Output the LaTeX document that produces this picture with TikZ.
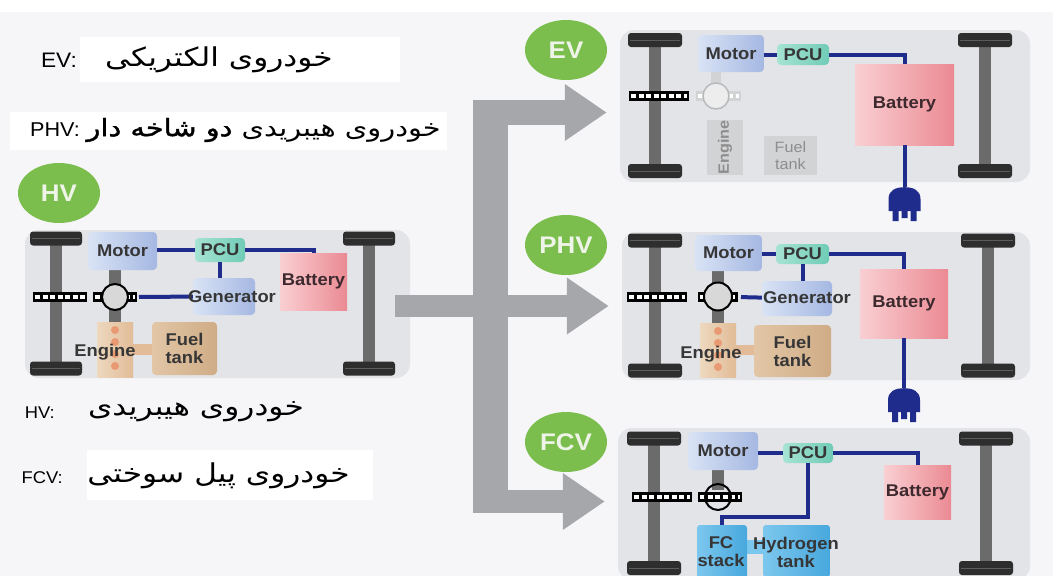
\documentclass[tikz,border=0pt]{standalone}
\usepackage{fontspec}
\setmainfont{Liberation Sans}[FakeStretch=1.08]
\newfontfamily\farsi[Script=Arabic,FakeStretch=1.2]{DejaVu Sans}
\newfontfamily\farsibold[Script=Arabic,FakeStretch=1.2,FakeBold=1.5]{DejaVu Sans}
\TeXXeTstate=1
\usetikzlibrary{shapes.geometric,arrows.meta}
\definecolor{pagebg}{HTML}{F6F6F8}
\definecolor{carbody}{HTML}{E3E4E7}
\definecolor{tire}{HTML}{2E2E2E}
\definecolor{tread}{HTML}{5C5C5C}
\definecolor{axle}{HTML}{6B6B6B}
\definecolor{wireblue}{HTML}{1F2C8C}
\definecolor{arrowgray}{HTML}{A6A7AB}
\definecolor{taggreen}{HTML}{7BBE4D}
\definecolor{tagtext}{HTML}{EEF4E8}
\definecolor{txt}{HTML}{363636}
\definecolor{battext}{HTML}{3E2A2E}
\definecolor{motorL}{HTML}{D9E3F5}
\definecolor{motorR}{HTML}{A5B8E2}
\definecolor{pcuL}{HTML}{A6E3D3}
\definecolor{pcuR}{HTML}{70CCB6}
\definecolor{batL}{HTML}{F9CFD2}
\definecolor{batR}{HTML}{EB8A93}
\definecolor{engL}{HTML}{EDD8BE}
\definecolor{engR}{HTML}{E2BC98}
\definecolor{engdot}{HTML}{E99A72}
\definecolor{fuelL}{HTML}{E2C6A6}
\definecolor{fuelR}{HTML}{CFAC86}
\definecolor{fcL}{HTML}{7CC7EE}
\definecolor{fcR}{HTML}{48A8DD}
\definecolor{gearfill}{HTML}{D8D8D8}
\definecolor{faded}{HTML}{D2D3D5}
\definecolor{fadedline}{HTML}{B8B9BB}
\definecolor{fadedtext}{HTML}{8E8E8E}
\tikzset{
  body/.style={fill=carbody, rounded corners=14pt, inner sep=0pt},
  wh/.style 2 args={minimum width=#1, minimum height=#2},
  lbl/.style={text=txt, font=\bfseries\fontsize{17}{18}\selectfont, align=center, inner sep=0pt},
  motorbox/.style={rounded corners=4pt, left color=motorL, right color=motorR, lbl},
  pcubox/.style={rounded corners=4pt, left color=pcuL, right color=pcuR, lbl},
  batbox/.style={left color=batL, right color=batR, lbl, text=battext},
  engbox/.style={left color=engL, right color=engR},
  fuelbox/.style={rounded corners=4pt, left color=fuelL, right color=fuelR, lbl},
  fcbox/.style={rounded corners=3pt, left color=fcL, right color=fcR},
  fadebox/.style={fill=faded, text=fadedtext, font=\fontsize{15}{17}\selectfont, align=center, inner sep=0pt},
  gear/.style={circle, draw=black, line width=2pt, fill=gearfill, minimum size=26, inner sep=0pt},
  wire/.style={draw=wireblue, line width=4pt},
  bigarrow/.style={draw=arrowgray, line width=24pt, -{Triangle[length=42pt,width=54pt]}},
  tag/.style={ellipse, fill=taggreen, text=tagtext, font=\bfseries\fontsize{24}{24}\selectfont, minimum width=82, minimum height=60, inner sep=0pt},
  latin/.style={anchor=east, inner sep=0pt, font=\fontsize{17}{18}\selectfont},
  fa/.style={anchor=east, inner sep=0pt, font=\farsi\fontsize{26}{28}\selectfont},
}
\newcommand{\carwheel}[4]{%
  \fill[axle] (#1-6,#2) rectangle (#1+6,#3);
  \fill[tire, rounded corners=3pt] (#1-#4/2,#2-7) rectangle (#1+#4/2,#2+7);
  \fill[tire, rounded corners=3pt] (#1-#4/2,#3-7) rectangle (#1+#4/2,#3+7);
  \draw[tread, line width=0.8pt] (#1-#4/2+2,#2) -- (#1+#4/2-2,#2) (#1-#4/2+2,#3) -- (#1+#4/2-2,#3);
}
\newcommand{\driveshaft}[4][black]{%
  \fill[#1] (#2,#4-5) rectangle (#3,#4+5);
  \draw[white, line width=4pt, dash pattern=on 5pt off 2.5pt] (#2+2,#4) -- (#3-2,#4);
}
\newcommand{\plugat}[1]{%
  \begin{scope}[shift={(#1)}]
    \fill[wireblue] (-16,24) -- (-16,12) .. controls (-16,3) and (-9,0) .. (0,0) .. controls (9,0) and (16,3) .. (16,12) -- (16,24) -- cycle;
    \fill[wireblue] (-12,23) rectangle (-6,34) (-3,23) rectangle (3,31) (6,23) rectangle (12,34);
  \end{scope}}
\begin{document}
\begin{tikzpicture}[x=1pt, y=-1pt]
  \useasboundingbox (0,0) rectangle (1053,576);
  \clip (0,0) rectangle (1053,576);
  \fill[white] (0,0) rectangle (1053,576);
  \fill[pagebg] (0,12) rectangle (1053,576);
  \fill[white] (80,37) rectangle (400,82);
  \fill[white] (10,112) rectangle (447,150);
  \fill[white] (87,450) rectangle (373,500);

  \node[latin, font=\fontsize{21}{22}\selectfont] (evkey) at (77,60) {EV:};
  \node[fa] (evname) at (333,60) {\beginR خودروی الکتریکی\endR};
  \node[latin, font=\fontsize{20}{22}\selectfont] (phvkey) at (80,130) {PHV:};
  \node[fa, font=\farsi\fontsize{24}{26}\selectfont] (phvname) at (441,130) {\beginR خودروی هیبریدی {\farsibold دو شاخه دار}\endR};
  \node[latin] (hvkey) at (55,413) {HV:};
  \node[fa] (hvname) at (304,412) {\beginR خودروی هیبریدی\endR};
  \node[latin] (fcvkey) at (63,478) {FCV:};
  \node[fa] (fcvname) at (350,476) {\beginR خودروی پیل سوختی\endR};

  \node[tag] (hvtag) at (59,193) {HV};
  \node[body, wh={385}{148}] (hvcar) at (217.5,304) {};
  \carwheel{56}{238.5}{368.5}{52}
  \carwheel{369}{238.5}{368.5}{52}
  \fill[axle] (109,270) rectangle (121,322);
  \node[motorbox, wh={69}{38}] (hvmot) at (122.5,251) {Motor};
  \node[pcubox, wh={50}{24}] (hvpcu) at (220,250) {PCU};
  \node[batbox, wh={67}{57}] (hvbat) at (313.5,281.5) {Battery};
  \node[motorbox, wh={62}{37}] (hvgen) at (224,296.5) {};
  \node[engbox, wh={36}{55}] (hveng) at (115,349.5) {};
  \fill[engR] (133,344) rectangle (153,355);
  \node[fuelbox, wh={65}{53}] (hvfuel) at (184.5,348.5) {Fuel\\tank};
  \fill[engdot] (115,330) circle (4pt) (115,342) circle (4pt) (115,354) circle (4pt) (115,366) circle (4pt);
  \draw[wire] (hvmot.east |- hvpcu) -- (hvpcu.west);
  \draw[wire] (hvpcu.east) -| (hvbat.north);
  \draw[wire] (hvpcu.south) -- (hvpcu.south |- hvgen.north);
  \driveshaft{33}{87}{297}
  \driveshaft{93}{137}{297}
  \node[gear] (hvgear) at (115,297) {};
  \draw[wire, shorten <=10pt] (hvgear) -- (hvgen);
  \node[lbl] (hvgentext) at (232,297) {Generator};
  \node[lbl] (hventext) at (105,352) {Engine};

  \fill[arrowgray] (473,100) rectangle (508,513);
  \coordinate (bartop) at (473,112.5);
  \coordinate (barbot) at (473,501.5);
  \node[body, wh={410}{152}] (evcar) at (825,106) {};
  \node[body, wh={408}{148}] (phvcar) at (826,306) {};
  \node[body, wh={412}{152}] (fcvcar) at (824,504) {};
  \draw[bigarrow, line width=25pt, shorten >=13pt] (bartop) -- (bartop -| evcar.west);
  \draw[bigarrow, line width=22pt, shorten >=13pt] ([xshift=-15pt]hvcar.east |- phvcar.west) -- (phvcar.west);
  \draw[bigarrow, line width=23pt, shorten >=13pt] (barbot) -- (barbot -| fcvcar.west);

  \node[tag] (evtag) at (566,50) {EV};
  \carwheel{655}{40}{171}{54}
  \carwheel{985}{40}{171}{54}
  \fill[faded] (711,72) rectangle (721,90);
  \driveshaft{629}{689}{96}
  \driveshaft[faded]{696}{741}{96}
  \node[gear, draw=fadedline, fill=faded!40, line width=1.5pt] (evgear) at (716,96) {};
  \node[motorbox, wh={66}{37}] (evmot) at (731,53.5) {Motor};
  \node[pcubox, wh={52}{21}] (evpcu) at (803,54.5) {PCU};
  \node[batbox, wh={99}{81}] (evbat) at (904.5,104.5) {Battery};
  \node[fadebox, wh={36}{55}] (eveng) at (725,147.5) {};
  \node[fadebox, rotate=90, font=\bfseries\fontsize{15}{17}\selectfont, fill=none] (evengtext) at (725,147.5) {Engine};
  \node[fadebox, wh={53}{39}] (evfuel) at (790.5,155.5) {Fuel\\tank};
  \coordinate (evplug) at ([yshift=-42pt]evbat.south);
  \draw[wire] (evmot.east |- evpcu) -- (evpcu.west);
  \draw[wire] (evpcu.east) -| (evbat.north);
  \draw[wire] (evbat.south) -- (evplug);
  \plugat{evplug}

  \node[tag] (phvtag) at (566,245) {PHV};
  \carwheel{655}{240.5}{370.5}{54}
  \carwheel{988}{240.5}{370.5}{54}
  \fill[axle] (712,271) rectangle (724,323);
  \node[motorbox, wh={67}{36}] (phvmot) at (728.5,253) {Motor};
  \node[pcubox, wh={53}{20}] (phvpcu) at (802.5,254) {PCU};
  \node[batbox, wh={88}{69}] (phvbat) at (904,303.5) {Battery};
  \node[motorbox, wh={70}{35}] (phvgen) at (797,298.5) {};
  \node[engbox, wh={36}{54}] (phveng) at (718,350) {};
  \fill[engR] (736,345) rectangle (754,355);
  \node[fuelbox, wh={77}{52}] (phvfuel) at (792.5,351) {Fuel\\tank};
  \fill[engdot] (718,331) circle (4pt) (718,343) circle (4pt) (718,355) circle (4pt) (718,367) circle (4pt);
  \coordinate (phvplug) at ([yshift=-50pt]phvbat.south);
  \draw[wire] (phvmot.east |- phvpcu) -- (phvpcu.west);
  \draw[wire] (phvpcu.east) -| (phvbat.north);
  \draw[wire] (phvpcu.south) -- (phvpcu.south |- phvgen.north);
  \draw[wire] (phvbat.south) -- (phvplug);
  \plugat{phvplug}
  \driveshaft{627}{687}{296.5}
  \driveshaft{698}{738}{296.5}
  \node[gear, minimum size=28] (phvgear) at (718,296.5) {};
  \draw[wire, shorten <=8pt] (phvgear) -- (phvgen);
  \node[lbl] (phvgentext) at (807,298) {Generator};
  \node[lbl] (phvengtext) at (711,354) {Engine};

  \node[tag] (fcvtag) at (566,442) {FCV};
  \carwheel{654}{438.5}{568}{54}
  \carwheel{986}{438.5}{568}{54}
  \fill[axle] (712,470) rectangle (724,490);
  \node[motorbox, wh={70}{38}] (fcvmot) at (723,451) {Motor};
  \node[pcubox, wh={50}{20}] (fcvpcu) at (808,453) {PCU};
  \node[batbox, wh={67}{54}] (fcvbat) at (917.5,492) {Battery};
  \fill[fcL] (747,540) rectangle (763,554);
  \node[fcbox, wh={50}{54}] (fcvstack) at (722,552) {};
  \node[fcbox, wh={67}{52}] (fcvtank) at (796.5,551) {};
  \coordinate (fcvbend) at (722,517);
  \draw[wire] (fcvmot.east |- fcvpcu) -- (fcvpcu.west);
  \draw[wire] (fcvpcu.east) -| (fcvbat.north);
  \draw[wire] (fcvpcu.south) |- (fcvbend) -- (fcvstack.north);
  \driveshaft{632}{692}{497}
  \driveshaft{698}{742}{497}
  \node[gear, fill=none] (fcvgear) at (718,497) {};
  \node[lbl] (fcvstacktext) at (721,552) {FC\\stack};
  \node[lbl] (fcvtanktext) at (796,552) {Hydrogen\\tank};
\end{tikzpicture}
\end{document}
